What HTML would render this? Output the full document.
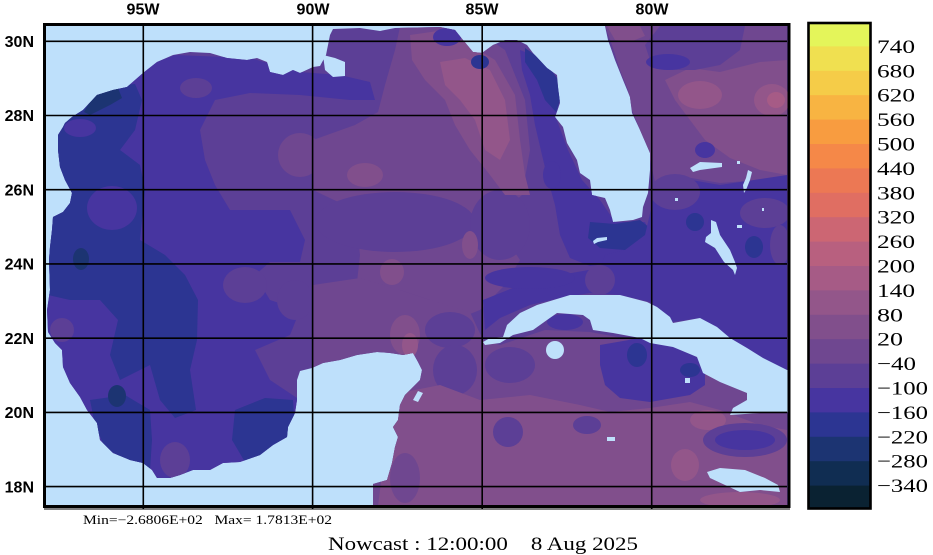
<!DOCTYPE html>
<html><head><meta charset="utf-8">
<style>
html,body{margin:0;padding:0;background:#fff;}
svg{display:block;}
.tl{font-family:"Liberation Sans",sans-serif;font-weight:bold;font-size:16px;fill:#000;}
.cb{font-family:"Liberation Serif",serif;font-size:19px;fill:#000;}
.sm{font-family:"Liberation Serif",serif;font-size:12.5px;fill:#000;white-space:pre;}
.nc{font-family:"Liberation Serif",serif;font-size:19px;fill:#000;white-space:pre;}
</style></head><body>
<svg width="933" height="555" viewBox="0 0 933 555" xmlns="http://www.w3.org/2000/svg">
<defs>
<clipPath id="wc"><path d="M157,478 L152,470 143,463 130,460 113,453 100,440 97,423 87,410 80,397 70,383 63,367 62,350 55,343 48,332 47,310 50,290 49,260 50,247 52,230 53,217 63,212 70,203 72,193 65,180 60,167 58,150 58,135 63,127 65,123 72,117 83,110 97,95 113,90 127,87 143,73 157,62 173,55 190,52 210,53 227,58 247,60 257,58 267,62 270,72 283,75 293,70 300,73 313,67 320,66 326,55 330,35 333,29 360,28 380,31 395,28 440,27 455,30 463,40 473,52 482,53 493,45 505,40 517,40 527,45 533,53 547,68 557,75 558,87 560,103 555,117 563,127 567,143 577,160 580,173 590,180 592,195 605,198 610,210 613,222 633,220 642,217 643,207 648,193 650,170 650,153 640,130 632,113 630,97 623,80 615,60 608,40 605,26 L788,26 788,506 373,506 373,484 387,480 392,463 395,447 398,437 393,427 398,420 400,405 405,395 410,390 413,387 420,380 422,370 418,362 413,353 403,355 390,353 377,352 357,355 340,360 323,363 312,368 300,371 297,380 297,400 295,413 288,427 287,437 273,445 260,455 240,462 223,463 210,470 193,470 180,475 170,478 Z"/></clipPath>
</defs>
<rect x="0" y="0" width="933" height="555" fill="#fff"/>
<rect x="45" y="25" width="744" height="482" fill="#bee0fb"/>
<path d="M157,478 L152,470 143,463 130,460 113,453 100,440 97,423 87,410 80,397 70,383 63,367 62,350 55,343 48,332 47,310 50,290 49,260 50,247 52,230 53,217 63,212 70,203 72,193 65,180 60,167 58,150 58,135 63,127 65,123 72,117 83,110 97,95 113,90 127,87 143,73 157,62 173,55 190,52 210,53 227,58 247,60 257,58 267,62 270,72 283,75 293,70 300,73 313,67 320,66 326,55 330,35 333,29 360,28 380,31 395,28 440,27 455,30 463,40 473,52 482,53 493,45 505,40 517,40 527,45 533,53 547,68 557,75 558,87 560,103 555,117 563,127 567,143 577,160 580,173 590,180 592,195 605,198 610,210 613,222 633,220 642,217 643,207 648,193 650,170 650,153 640,130 632,113 630,97 623,80 615,60 608,40 605,26 L788,26 788,506 373,506 373,484 387,480 392,463 395,447 398,437 393,427 398,420 400,405 405,395 410,390 413,387 420,380 422,370 418,362 413,353 403,355 390,353 377,352 357,355 340,360 323,363 312,368 300,371 297,380 297,400 295,413 288,427 287,437 273,445 260,455 240,462 223,463 210,470 193,470 180,475 170,478 Z" fill="#5c3f96"/>
<g clip-path="url(#wc)">
<!-- west C3 -->
<polygon fill="#4735a0" points="46,60 140,68 175,55 250,58 300,72 340,75 370,82 375,100 350,100 300,95 250,93 215,100 200,130 205,160 215,185 230,210 290,210 305,240 300,262 270,262 255,275 270,300 300,310 290,335 255,350 270,380 300,400 300,440 260,470 150,480 90,450 70,400 46,380"/>
<ellipse cx="196" cy="88" rx="16" ry="10" fill="#5c3f96"/>
<ellipse cx="245" cy="285" rx="22" ry="18" fill="#5c3f96"/>
<ellipse cx="300" cy="155" rx="22" ry="22" fill="#6f4790"/>
<ellipse cx="175" cy="460" rx="15" ry="18" fill="#5c3f96"/>
<!-- navy west -->
<polygon fill="#2c3592" points="48,130 70,100 100,88 135,84 142,100 135,130 120,150 140,165 145,190 140,240 165,255 185,275 198,300 197,340 190,370 196,410 175,418 160,400 150,365 120,380 110,355 118,320 100,300 70,300 48,295"/>
<polygon fill="#2c3592" points="90,400 125,395 150,410 152,440 150,470 130,462 105,448 95,425"/>
<polygon fill="#2c3592" points="235,410 265,398 293,400 295,430 288,440 270,455 245,462 232,440"/>
<ellipse cx="112" cy="208" rx="25" ry="22" fill="#4735a0"/>
<ellipse cx="80" cy="128" rx="16" ry="9" fill="#4735a0"/>
<ellipse cx="62" cy="330" rx="12" ry="12" fill="#5c3f96"/>
<ellipse cx="81" cy="259" rx="8" ry="11" fill="#1c3472"/>
<ellipse cx="117" cy="396" rx="9" ry="11" fill="#1c3472"/>
<polygon fill="#1c3472" points="95,92 118,88 122,98 110,105 90,115 84,112"/>
<!-- east Gulf C5 -->
<polygon fill="#6f4790" points="400,27 470,27 505,50 525,100 530,150 522,195 505,210 510,245 520,260 505,285 480,310 430,330 400,335 370,330 355,300 360,255 355,210 313,190 313,140 355,125 378,112 385,85 395,50"/>
<ellipse cx="395" cy="222" rx="80" ry="30" fill="#5c3f96"/>
<ellipse cx="500" cy="225" rx="30" ry="35" fill="#5c3f96"/>
<polygon fill="#814f8c" points="410,35 445,30 470,45 495,60 515,95 520,140 525,175 530,195 505,195 490,175 470,150 455,125 445,100 425,80 412,60"/>
<polygon fill="#93568a" points="440,62 465,58 490,70 505,100 510,140 500,160 485,150 475,120 460,100 445,85"/>
<ellipse cx="365" cy="175" rx="18" ry="12" fill="#814f8c"/>
<ellipse cx="470" cy="245" rx="8" ry="14" fill="#814f8c"/>
<ellipse cx="392" cy="272" rx="12" ry="13" fill="#814f8c"/>
<ellipse cx="447" cy="37" rx="14" ry="9" fill="#4735a0"/>
<ellipse cx="480" cy="62" rx="9" ry="7" fill="#2c3592"/>
<!-- Florida shelf -->
<polygon fill="#4735a0" points="520,50 540,58 555,75 560,100 556,118 568,150 582,180 600,200 615,222 645,222 655,245 620,262 590,266 570,258 560,235 555,205 548,180 542,155 535,125 530,95 522,70"/>
<polygon fill="#2c3592" points="525,48 545,62 557,78 560,100 556,112 545,100 537,80 525,62"/>
<polygon fill="#2c3592" points="590,222 615,224 640,220 650,228 645,245 625,250 600,248 588,238"/>
<ellipse cx="552" cy="175" rx="9" ry="14" fill="#4735a0"/>
<!-- Atlantic north -->
<polygon fill="#6f4790" points="605,26 787,26 787,178 720,183 680,176 655,182 650,160 640,130 632,110 628,90 620,70 612,45"/>
<polygon fill="#814f8c" points="607,26 640,26 645,36 630,42 615,40"/>
<polygon fill="#814f8c" points="690,68 720,72 760,62 787,60 787,175 760,170 730,158 705,140 690,120 675,100 665,80"/>
<polygon fill="#5c3f96" points="660,26 745,26 740,50 720,65 695,70 670,70 650,60 645,45"/>
<ellipse cx="668" cy="62" rx="22" ry="8" fill="#4735a0"/>
<ellipse cx="700" cy="95" rx="22" ry="14" fill="#93568a"/>
<ellipse cx="772" cy="100" rx="18" ry="16" fill="#93568a"/>
<ellipse cx="776" cy="100" rx="9" ry="8" fill="#a65b86"/>
<ellipse cx="705" cy="150" rx="10" ry="8" fill="#4735a0"/>
<!-- Atlantic south / straits -->
<polygon fill="#4735a0" points="605,255 625,250 645,235 652,205 655,185 680,178 720,185 787,175 787,372 763,358 730,338 700,318 672,322 650,302 620,295 590,293 560,298 530,305 500,318 485,330 483,300 520,285 560,275 600,268"/>
<ellipse cx="530" cy="278" rx="45" ry="11" fill="#4735a0"/>
<ellipse cx="675" cy="192" rx="25" ry="18" fill="#5c3f96"/>
<ellipse cx="765" cy="213" rx="25" ry="15" fill="#5c3f96"/>
<ellipse cx="780" cy="245" rx="10" ry="20" fill="#5c3f96"/>
<ellipse cx="600" cy="280" rx="15" ry="15" fill="#5c3f96"/>
<ellipse cx="695" cy="222" rx="9" ry="9" fill="#2c3592"/>
<ellipse cx="754" cy="247" rx="9" ry="11" fill="#2c3592"/>
<!-- Caribbean -->
<polygon fill="#6f4790" points="313,285 360,278 400,290 430,300 470,312 483,340 500,345 545,330 590,332 650,343 700,358 720,382 760,395 787,412 787,506 373,506 373,360 313,370"/>
<ellipse cx="450" cy="330" rx="25" ry="18" fill="#5c3f96"/>
<ellipse cx="455" cy="370" rx="22" ry="25" fill="#5c3f96"/>
<ellipse cx="510" cy="365" rx="25" ry="18" fill="#5c3f96"/>
<ellipse cx="565" cy="322" rx="18" ry="8" fill="#4735a0"/>
<ellipse cx="295" cy="300" rx="18" ry="20" fill="#5c3f96"/>
<polygon fill="#4735a0" points="600,345 640,338 680,348 705,362 705,385 690,395 650,402 620,398 605,385 600,365"/>
<ellipse cx="637" cy="355" rx="10" ry="12" fill="#2c3592"/>
<ellipse cx="690" cy="370" rx="10" ry="7" fill="#2c3592"/>
<polygon fill="#814f8c" points="390,395 440,385 480,400 530,395 580,405 610,412 650,408 690,402 720,410 760,425 787,430 787,506 378,506 385,450"/>
<ellipse cx="405" cy="478" rx="15" ry="25" fill="#6f4790"/>
<ellipse cx="587" cy="425" rx="14" ry="9" fill="#5c3f96"/>
<ellipse cx="508" cy="432" rx="15" ry="15" fill="#5c3f96"/>
<ellipse cx="708" cy="420" rx="18" ry="10" fill="#93568a"/>
<ellipse cx="745" cy="440" rx="42" ry="17" fill="#5c3f96"/>
<ellipse cx="745" cy="440" rx="30" ry="10" fill="#4735a0"/>
<ellipse cx="685" cy="465" rx="14" ry="16" fill="#93568a"/>
<ellipse cx="740" cy="500" rx="40" ry="8" fill="#93568a"/>
<ellipse cx="405" cy="335" rx="15" ry="20" fill="#814f8c"/>
<ellipse cx="410" cy="345" rx="8" ry="12" fill="#93568a"/>
</g>
<!-- islands / land on top -->
<g fill="#bee0fb">
<polygon points="483,342 490,338 503,337 507,325 520,313 537,305 547,302 570,295 590,295 620,295 647,302 657,307 670,317 673,323 700,318 717,327 730,338 747,348 763,358 787,370 790,370 790,412 787,412 760,413 730,415 733,408 747,400 747,393 720,382 703,373 697,357 673,347 650,343 640,338 613,333 593,330 590,320 583,315 557,313 547,320 533,330 513,335 500,343 485,345"/>
<circle cx="555" cy="350" r="9"/>
<polygon points="707,472 720,468 745,470 765,478 778,485 780,492 760,490 740,492 725,485 710,478"/>
<polygon points="418,391 423,393 418,402 413,400"/>
<polygon points="711,220 716,222 720,235 730,250 735,262 737,268 735,275 733,270 724,262 715,248 705,242 706,237 711,233"/>
<polygon points="690,168 700,162 722,163 722,167 700,170 693,172"/>
<polygon points="748,170 752,172 750,180 746,190 744,193 743,185 746,178"/>
<polygon points="593,241 597,238 607,237 607,240 598,242 594,244"/>
<polygon points="323,55 335,58 345,62 345,76 333,77 325,70"/>
<rect x="737" y="225" width="5" height="3"/>
<rect x="762" y="208" width="2" height="3"/>
<rect x="675" y="198" width="3" height="3"/>
<rect x="737" y="161" width="3" height="3"/>
<rect x="607" y="437" width="8" height="4"/>
<rect x="685" y="378" width="5" height="5"/>
</g>
<!-- grid -->
<g stroke="#000" stroke-width="1.6">
<line x1="143.3" y1="26" x2="143.3" y2="509"/>
<line x1="312.6" y1="26" x2="312.6" y2="509"/>
<line x1="482.2" y1="26" x2="482.2" y2="509"/>
<line x1="651.7" y1="26" x2="651.7" y2="509"/>
<line x1="46" y1="41.3" x2="787" y2="41.3"/>
<line x1="46" y1="115.5" x2="787" y2="115.5"/>
<line x1="46" y1="189.7" x2="787" y2="189.7"/>
<line x1="46" y1="263.9" x2="787" y2="263.9"/>
<line x1="46" y1="338.2" x2="787" y2="338.2"/>
<line x1="46" y1="412.4" x2="787" y2="412.4"/>
<line x1="46" y1="486.6" x2="787" y2="486.6"/>
</g>
<rect x="44.5" y="24.5" width="744.5" height="482" fill="none" stroke="#000" stroke-width="3"/>
<line x1="44" y1="509" x2="790" y2="509" stroke="#000" stroke-width="1"/>
<!-- tick labels -->
<text class="tl" x="143" y="14.5" text-anchor="middle">95W</text>
<text class="tl" x="313" y="14.5" text-anchor="middle">90W</text>
<text class="tl" x="482" y="14.5" text-anchor="middle">85W</text>
<text class="tl" x="652" y="14.5" text-anchor="middle">80W</text>
<text class="tl" x="34" y="47" text-anchor="end">30N</text>
<text class="tl" x="34" y="121.2" text-anchor="end">28N</text>
<text class="tl" x="34" y="195.4" text-anchor="end">26N</text>
<text class="tl" x="34" y="269.6" text-anchor="end">24N</text>
<text class="tl" x="34" y="343.9" text-anchor="end">22N</text>
<text class="tl" x="34" y="418.1" text-anchor="end">20N</text>
<text class="tl" x="34" y="492.3" text-anchor="end">18N</text>
<!-- colorbar -->
<g>
<rect x="808" y="22" width="63" height="25" fill="#e4f55a"/>
<rect x="808" y="46.4" width="63" height="25" fill="#f0e050"/>
<rect x="808" y="70.8" width="63" height="25" fill="#f5cc48"/>
<rect x="808" y="95.2" width="63" height="25" fill="#f8b442"/>
<rect x="808" y="119.6" width="63" height="25" fill="#f89c40"/>
<rect x="808" y="144" width="63" height="25" fill="#f58848"/>
<rect x="808" y="168.4" width="63" height="25" fill="#ec7854"/>
<rect x="808" y="192.8" width="63" height="25" fill="#e06e62"/>
<rect x="808" y="217.2" width="63" height="25" fill="#cc6673"/>
<rect x="808" y="241.6" width="63" height="25" fill="#b8607f"/>
<rect x="808" y="266" width="63" height="25" fill="#a65b86"/>
<rect x="808" y="290.4" width="63" height="25" fill="#93568a"/>
<rect x="808" y="314.8" width="63" height="25" fill="#814f8c"/>
<rect x="808" y="339.2" width="63" height="25" fill="#6f4790"/>
<rect x="808" y="363.6" width="63" height="25" fill="#5c3f96"/>
<rect x="808" y="388" width="63" height="25" fill="#4735a0"/>
<rect x="808" y="412.4" width="63" height="25" fill="#2c3592"/>
<rect x="808" y="436.8" width="63" height="25" fill="#1c3472"/>
<rect x="808" y="461.2" width="63" height="25" fill="#102d52"/>
<rect x="808" y="485.6" width="63" height="23" fill="#0a2232"/>
<rect x="808.5" y="23" width="62" height="485.5" fill="none" stroke="#000" stroke-width="2.6"/>
</g>
<g class="cb">
<text x="877" y="52.9" textLength="38" lengthAdjust="spacingAndGlyphs">740</text>
<text x="877" y="77.3" textLength="38" lengthAdjust="spacingAndGlyphs">680</text>
<text x="877" y="101.7" textLength="38" lengthAdjust="spacingAndGlyphs">620</text>
<text x="877" y="126.1" textLength="38" lengthAdjust="spacingAndGlyphs">560</text>
<text x="877" y="150.5" textLength="38" lengthAdjust="spacingAndGlyphs">500</text>
<text x="877" y="174.9" textLength="38" lengthAdjust="spacingAndGlyphs">440</text>
<text x="877" y="199.3" textLength="38" lengthAdjust="spacingAndGlyphs">380</text>
<text x="877" y="223.7" textLength="38" lengthAdjust="spacingAndGlyphs">320</text>
<text x="877" y="248.1" textLength="38" lengthAdjust="spacingAndGlyphs">260</text>
<text x="877" y="272.5" textLength="38" lengthAdjust="spacingAndGlyphs">200</text>
<text x="877" y="296.9" textLength="38" lengthAdjust="spacingAndGlyphs">140</text>
<text x="877" y="321.3" textLength="26" lengthAdjust="spacingAndGlyphs">80</text>
<text x="877" y="345.7" textLength="26" lengthAdjust="spacingAndGlyphs">20</text>
<text x="877" y="370.1" textLength="39" lengthAdjust="spacingAndGlyphs">−40</text>
<text x="877" y="394.5" textLength="51" lengthAdjust="spacingAndGlyphs">−100</text>
<text x="877" y="418.9" textLength="51" lengthAdjust="spacingAndGlyphs">−160</text>
<text x="877" y="443.3" textLength="51" lengthAdjust="spacingAndGlyphs">−220</text>
<text x="877" y="467.7" textLength="51" lengthAdjust="spacingAndGlyphs">−280</text>
<text x="877" y="492.1" textLength="51" lengthAdjust="spacingAndGlyphs">−340</text>
</g>
<text class="sm" x="83" y="524" textLength="249" lengthAdjust="spacingAndGlyphs" xml:space="preserve">Min=−2.6806E+02   Max= 1.7813E+02</text>
<text class="nc" x="328" y="550" textLength="310" lengthAdjust="spacingAndGlyphs" xml:space="preserve">Nowcast : 12:00:00    8 Aug 2025</text>
</svg>
</body></html>
